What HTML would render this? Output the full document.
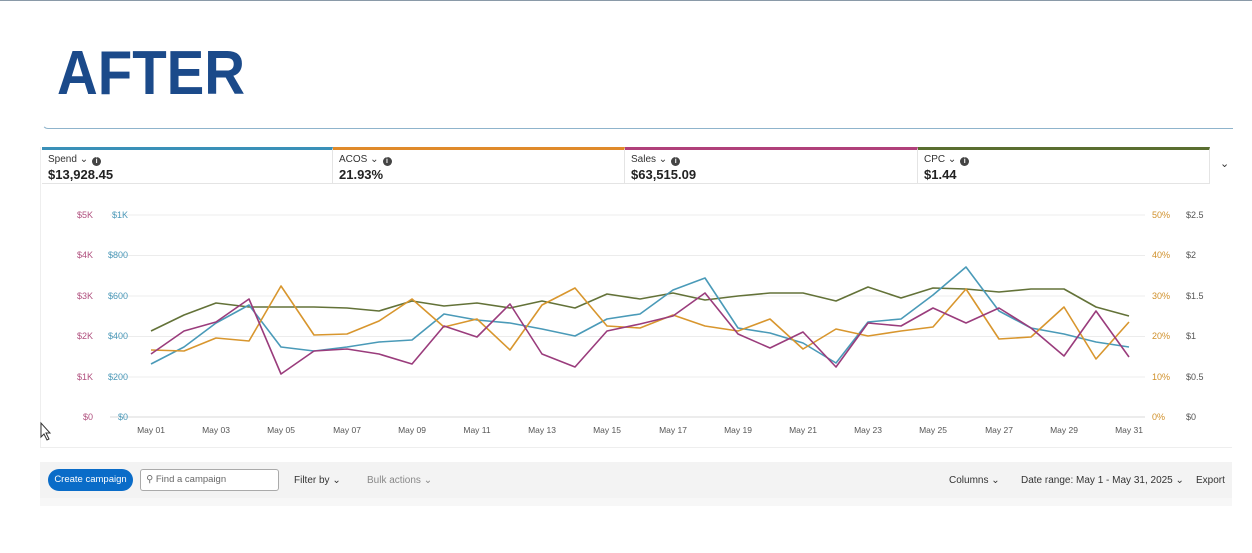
<!DOCTYPE html>
<html><head><meta charset="utf-8"><style>
body{margin:0;width:1252px;height:553px;background:#fff;font-family:"Liberation Sans",sans-serif;position:relative;overflow:hidden}
.a{position:absolute}
.tab{position:absolute;top:147px;height:37px;border-top:3px solid;border-right:1px solid #e4e4e4;border-bottom:1px solid #e4e4e4;box-sizing:border-box}
.tab .l{position:absolute;left:6px;top:4px;font-size:10px;color:#333}
.tab .v{position:absolute;left:6px;top:17px;font-size:13px;font-weight:bold;color:#222}
.i{display:inline-block;width:9px;height:9px;border-radius:50%;background:#444;color:#fff;font-size:7px;text-align:center;line-height:9px;font-weight:bold;vertical-align:-1px;margin-left:4px}
.tb{font-size:10px;color:#333;position:absolute;top:475px}
</style></head><body>
<div class="a" style="left:0;top:0;width:1252px;height:1px;background:#8a9aa8"></div>
<div class="a" style="left:57px;top:38px;font-size:62px;font-weight:bold;color:#1b4a8a;transform:scaleX(0.91);transform-origin:0 0">AFTER</div>
<div class="a" style="left:42px;top:118px;width:1190px;height:10px;border-bottom:1.5px solid #8fb4cc;border-left:1.5px solid #8fb4cc;border-bottom-left-radius:6px;border-left-color:transparent"></div>
<div class="a" style="left:40px;top:147px;width:1px;height:300px;background:#eee"></div>
<div class="a" style="left:40px;top:447px;width:1192px;height:1px;background:#eee"></div>
<div class="tab" style="left:42px;width:291px;border-top-color:#3a90b8"><span class="l">Spend ⌄<span class="i">i</span></span><span class="v">$13,928.45</span></div>
<div class="tab" style="left:333px;width:292px;border-top-color:#e08a2a"><span class="l">ACOS ⌄<span class="i">i</span></span><span class="v">21.93%</span></div>
<div class="tab" style="left:625px;width:293px;border-top-color:#b0407a"><span class="l">Sales ⌄<span class="i">i</span></span><span class="v">$63,515.09</span></div>
<div class="tab" style="left:918px;width:292px;border-top-color:#5a6e30"><span class="l">CPC ⌄<span class="i">i</span></span><span class="v">$1.44</span></div>
<div class="a" style="left:1220px;top:157px;font-size:11px;color:#333">⌄</div>
<svg class="a" style="left:0;top:0" width="1252" height="553" font-family="Liberation Sans" font-size="9">
<g stroke="#ececec" stroke-width="1">
<line x1="110" x2="1145" y1="215" y2="215"/><line x1="110" x2="1145" y1="255.5" y2="255.5"/><line x1="110" x2="1145" y1="296" y2="296"/><line x1="110" x2="1145" y1="336.5" y2="336.5"/><line x1="110" x2="1145" y1="377" y2="377"/><line x1="110" x2="1145" y1="417" y2="417" stroke="#d8d8d8"/>
</g>
<g fill="#b0507e" text-anchor="end"><text x="93" y="218">$5K</text><text x="93" y="258">$4K</text><text x="93" y="299">$3K</text><text x="93" y="339">$2K</text><text x="93" y="380">$1K</text><text x="93" y="420">$0</text></g>
<g fill="#4a98b8" text-anchor="end"><text x="128" y="218">$1K</text><text x="128" y="258">$800</text><text x="128" y="299">$600</text><text x="128" y="339">$400</text><text x="128" y="380">$200</text><text x="128" y="420">$0</text></g>
<g fill="#d0902a"><text x="1152" y="218">50%</text><text x="1152" y="258">40%</text><text x="1152" y="299">30%</text><text x="1152" y="339">20%</text><text x="1152" y="380">10%</text><text x="1152" y="420">0%</text></g>
<g fill="#555"><text x="1186" y="218">$2.5</text><text x="1186" y="258">$2</text><text x="1186" y="299">$1.5</text><text x="1186" y="339">$1</text><text x="1186" y="380">$0.5</text><text x="1186" y="420">$0</text></g>
<g fill="#555" text-anchor="middle" font-size="8.5">
<text x="151" y="433">May 01</text><text x="216" y="433">May 03</text><text x="281" y="433">May 05</text><text x="347" y="433">May 07</text><text x="412" y="433">May 09</text><text x="477" y="433">May 11</text><text x="542" y="433">May 13</text><text x="607" y="433">May 15</text><text x="673" y="433">May 17</text><text x="738" y="433">May 19</text><text x="803" y="433">May 21</text><text x="868" y="433">May 23</text><text x="933" y="433">May 25</text><text x="999" y="433">May 27</text><text x="1064" y="433">May 29</text><text x="1129" y="433">May 31</text></g>
<g fill="none" stroke-width="1.6" stroke-linejoin="round">
<polyline stroke="#637238" points="151,331 184,315 216,303 249,307 281,307 314,307 347,308 379,311 412,301 444,306 477,303 510,308 542,301 575,308 607,294 640,299 673,293 705,300 738,296 770,293 803,293 836,301 868,287 901,298 933,288 966,289 999,292 1031,289 1064,289 1096,307 1129,316"/>
<polyline stroke="#4a9ab8" points="151,364 184,347 216,323 249,305 281,347 314,351 347,347 379,342 412,340 444,314 477,320 510,323 542,329 575,336 607,319 640,314 673,290 705,278 738,328 770,333 803,343 836,363 868,322 901,319 933,295 966,267 999,311 1031,328 1064,334 1096,342 1129,347"/>
<polyline stroke="#d8962e" points="151,350 184,351 216,338 249,341 281,286 314,335 347,334 379,321 412,299 444,327 477,319 510,350 542,305 575,288 607,326 640,328 673,315 705,326 738,331 770,319 803,349 836,329 868,336 901,331 933,327 966,289 999,339 1031,337 1064,307 1096,359 1129,322"/>
<polyline stroke="#9a3c7c" points="151,354 184,331 216,322 249,299 281,374 314,351 347,349 379,354 412,364 444,326 477,337 510,304 542,354 575,367 607,331 640,324 673,316 705,293 738,334 770,348 803,332 836,367 868,323 901,326 933,308 966,323 999,308 1031,328 1064,356 1096,311 1129,357"/>
</g>
<path d="M41 423 L41 437 L44 434 L47 440 L49 439 L46 433 L50 433 Z" fill="#fff" stroke="#333" stroke-width="1"/>
</svg>
<div class="a" style="left:40px;top:462px;width:1192px;height:36px;background:#f3f3f3"></div>
<div class="a" style="left:40px;top:498px;width:1192px;height:8px;background:#f7f7f7"></div>
<div class="a" style="left:48px;top:469px;width:85px;height:22px;border-radius:11px;background:#0a6cc8;color:#fff;font-size:9.5px;line-height:22px;text-align:center">Create campaign</div>
<div class="a" style="left:140px;top:469px;width:137px;height:20px;border:1px solid #aaa;border-radius:3px;background:#fff;font-size:9.5px;line-height:20px;color:#666;box-sizing:content-box">&nbsp;&nbsp;⚲&nbsp;Find a campaign</div>
<div class="tb" style="left:294px">Filter by ⌄</div>
<div class="tb" style="left:367px;color:#888">Bulk actions ⌄</div>
<div class="tb" style="left:949px">Columns ⌄</div>
<div class="tb" style="left:1021px">Date range: May 1 - May 31, 2025 ⌄</div>
<div class="tb" style="left:1196px">Export</div>
</body></html>
